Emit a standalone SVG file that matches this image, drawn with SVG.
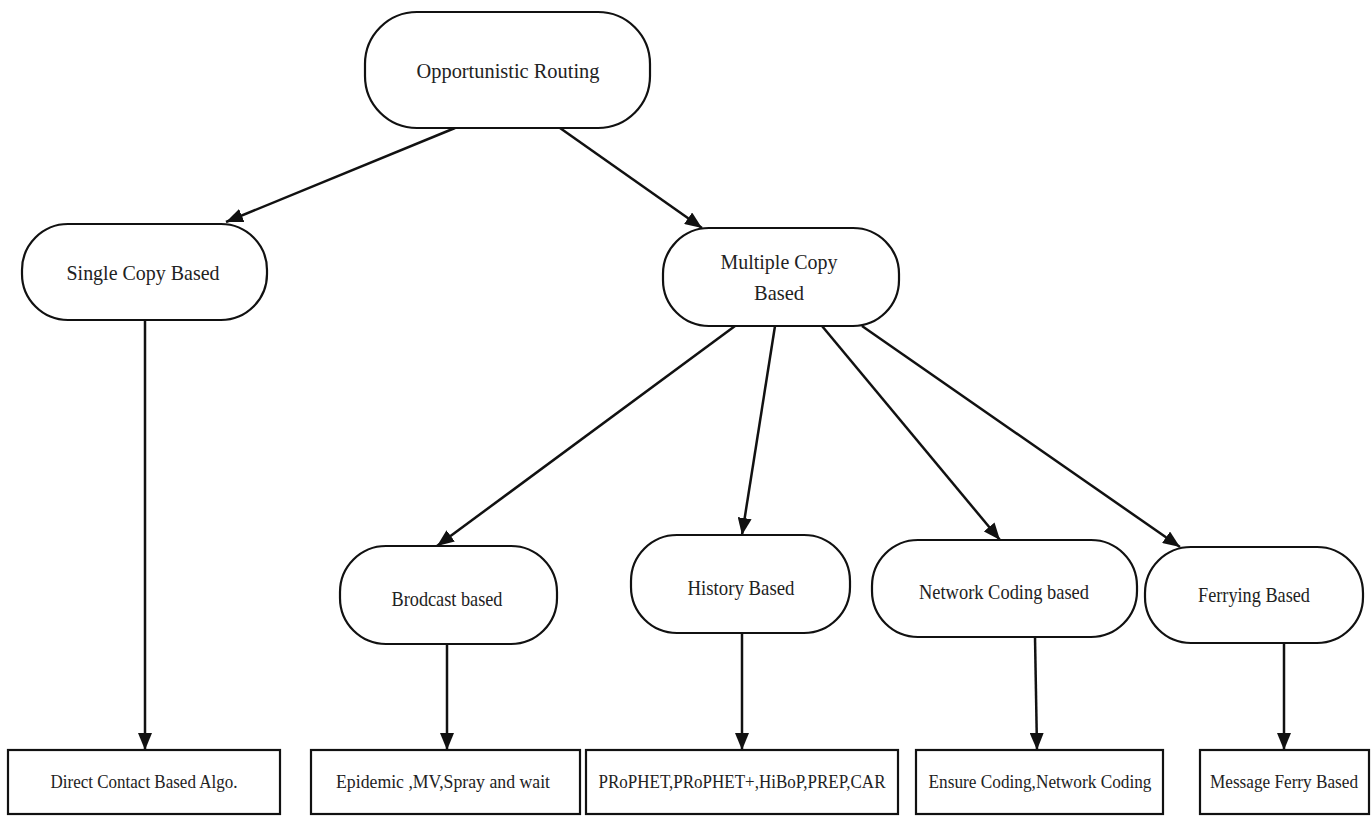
<svg xmlns="http://www.w3.org/2000/svg" width="1372" height="816" viewBox="0 0 1372 816">
<style>
.pill{fill:#fff;stroke:#111;stroke-width:2.2}
.box{fill:#fff;stroke:#111;stroke-width:2.2}
.t{font-family:"Liberation Serif","Times New Roman",serif;fill:#222;text-anchor:middle}
.m{font-size:22px}
.s{font-size:18px}
.c{fill:none;stroke:#111;stroke-width:2.5}
</style>
<defs>
<marker id="ah" markerUnits="userSpaceOnUse" markerWidth="18" markerHeight="14" refX="17" refY="7" orient="auto">
<path d="M0,0 L17,7 L0,14 z" fill="#111"/>
</marker>
</defs>
<rect width="1372" height="816" fill="#fff"/>
<g id="connectors">
<line class="c" x1="455" y1="128" x2="226" y2="222" marker-end="url(#ah)"/>
<line class="c" x1="560" y1="128" x2="702" y2="228" marker-end="url(#ah)"/>
<line class="c" x1="735" y1="326" x2="437" y2="546" marker-end="url(#ah)"/>
<line class="c" x1="775" y1="326" x2="742" y2="535" marker-end="url(#ah)"/>
<line class="c" x1="822" y1="326" x2="1000" y2="540" marker-end="url(#ah)"/>
<line class="c" x1="862" y1="326" x2="1180" y2="547" marker-end="url(#ah)"/>
<line class="c" x1="145" y1="320" x2="145" y2="750" marker-end="url(#ah)"/>
<line class="c" x1="447" y1="644" x2="447" y2="750" marker-end="url(#ah)"/>
<line class="c" x1="742" y1="633" x2="742" y2="750" marker-end="url(#ah)"/>
<line class="c" x1="1035" y1="637" x2="1037" y2="750" marker-end="url(#ah)"/>
<line class="c" x1="1284" y1="643" x2="1284" y2="750" marker-end="url(#ah)"/>
</g>
<g id="root">
<rect class="pill" x="365" y="12" width="285" height="116" rx="52" ry="52"/>
<text class="t m" x="508" y="78" textLength="183" lengthAdjust="spacingAndGlyphs">Opportunistic Routing</text>
</g>
<g id="single">
<rect class="pill" x="22" y="224" width="245" height="96" rx="46" ry="46"/>
<text class="t m" x="143" y="280" textLength="153" lengthAdjust="spacingAndGlyphs">Single Copy Based</text>
</g>
<g id="multiple">
<rect class="pill" x="663" y="228" width="236" height="98" rx="46" ry="46"/>
<text class="t m" x="779" y="269" textLength="117" lengthAdjust="spacingAndGlyphs">Multiple Copy</text>
<text class="t m" x="779" y="300" textLength="50" lengthAdjust="spacingAndGlyphs">Based</text>
</g>
<g id="brodcast">
<rect class="pill" x="340" y="546" width="217" height="98" rx="46" ry="46"/>
<text class="t m" x="447" y="606" textLength="111" lengthAdjust="spacingAndGlyphs">Brodcast based</text>
</g>
<g id="history">
<rect class="pill" x="631" y="535" width="219" height="98" rx="46" ry="46"/>
<text class="t m" x="741" y="595" textLength="107" lengthAdjust="spacingAndGlyphs">History Based</text>
</g>
<g id="network">
<rect class="pill" x="872" y="540" width="265" height="97" rx="46" ry="46"/>
<text class="t m" x="1004" y="599" textLength="170" lengthAdjust="spacingAndGlyphs">Network Coding based</text>
</g>
<g id="ferrying">
<rect class="pill" x="1145" y="547" width="218" height="96" rx="46" ry="46"/>
<text class="t m" x="1254" y="602" textLength="112" lengthAdjust="spacingAndGlyphs">Ferrying Based</text>
</g>
<g id="direct">
<rect class="box" x="8" y="750" width="272" height="64"/>
<text class="t s" x="144" y="788" textLength="187" lengthAdjust="spacingAndGlyphs">Direct Contact Based Algo.</text>
</g>
<g id="epidemic">
<rect class="box" x="311" y="750" width="269" height="64"/>
<text class="t s" x="443" y="788" textLength="214" lengthAdjust="spacingAndGlyphs">Epidemic ,MV,Spray and wait</text>
</g>
<g id="prophet">
<rect class="box" x="586" y="750" width="312" height="64"/>
<text class="t s" x="742" y="788" textLength="287" lengthAdjust="spacingAndGlyphs">PRoPHET,PRoPHET+,HiBoP,PREP,CAR</text>
</g>
<g id="ensure">
<rect class="box" x="916" y="750" width="247" height="64"/>
<text class="t s" x="1040" y="788" textLength="223" lengthAdjust="spacingAndGlyphs">Ensure Coding,Network Coding</text>
</g>
<g id="message">
<rect class="box" x="1200" y="750" width="169" height="64"/>
<text class="t s" x="1284" y="788" textLength="148" lengthAdjust="spacingAndGlyphs">Message Ferry Based</text>
</g>
</svg>
